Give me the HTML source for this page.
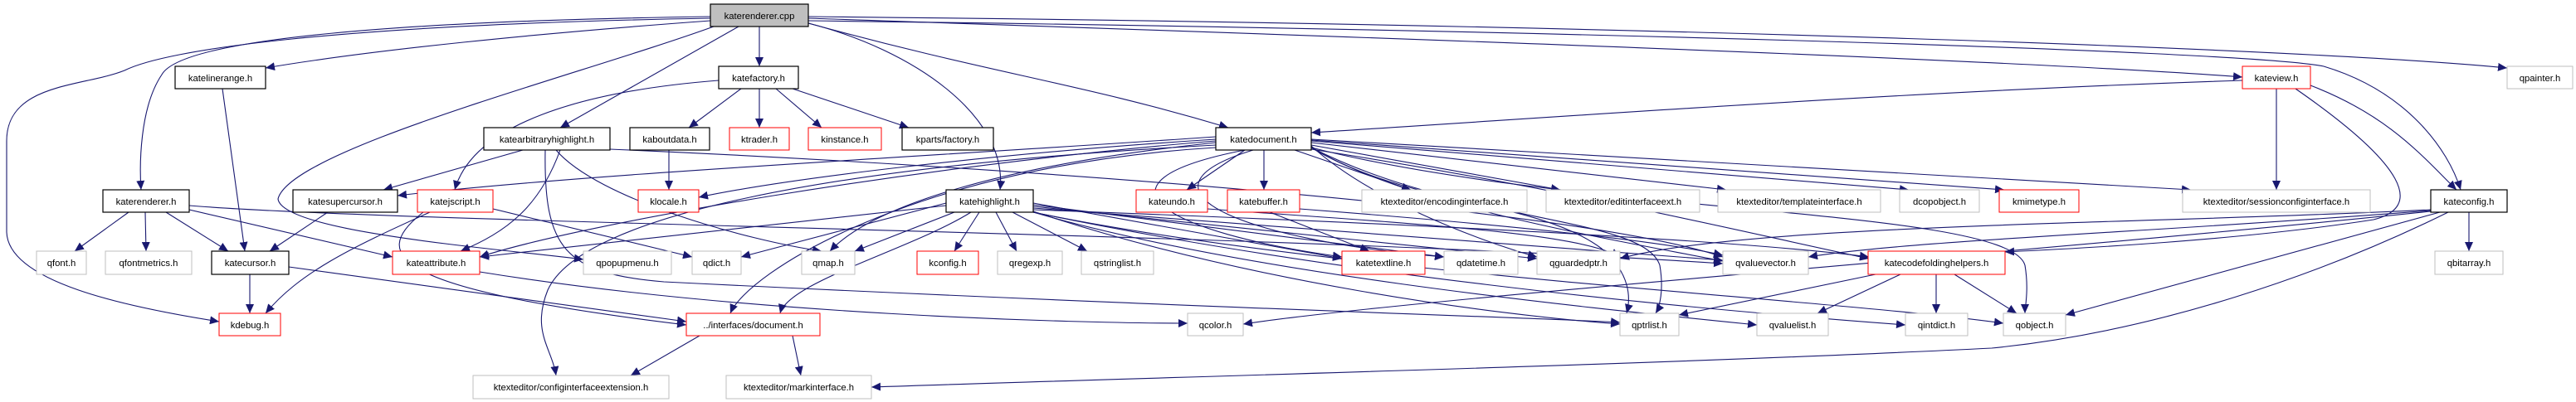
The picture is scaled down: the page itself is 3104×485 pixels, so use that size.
<!DOCTYPE html>
<html><head><meta charset="utf-8"><style>
html,body{margin:0;padding:0;background:#fff;}
svg{display:block}
text{font-family:"Liberation Sans",Arial,sans-serif;font-size:11.3px;fill:#000;text-anchor:middle}
.e{fill:none;stroke:#191970;stroke-width:1.1;marker-end:url(#a)}
.k{fill:#fff;stroke:#000;stroke-width:1.2}
.r{fill:#fff;stroke:#ff0000;stroke-width:1}
.g{fill:#fff;stroke:#bfbfbf;stroke-width:1}
</style></head><body>
<svg width="3104" height="485" viewBox="0 0 3104 485" xmlns="http://www.w3.org/2000/svg">
<defs><marker id="a" markerUnits="userSpaceOnUse" markerWidth="12" markerHeight="10" refX="11" refY="5" orient="auto"><path d="M0,0 L11,5 L0,10 z" fill="#191970"/></marker></defs>
<!-- edges -->
<path class="e" d="M915,32 L915,80"/>
<path class="e" d="M856,25 C650,40 450,60 320,82"/>
<path class="e" d="M856,20 C500,25 220,45 195,90 C168,130 168,200 170,229"/>
<path class="e" d="M856,22 C400,30 200,60 150,85 C100,105 8,100 8,170 L8,280 C10,340 150,370 264,388"/>
<path class="e" d="M890,32 L675,154"/>
<path class="e" d="M860,32 C700,90 350,180 335,240 C340,280 600,300 703,313"/>
<path class="e" d="M974,28 C1100,60 1215,140 1205,229"/>
<path class="e" d="M974,28 C1200,90 1300,100 1480,154"/>
<path class="e" d="M974,22 C1500,40 2400,70 2702,93"/>
<path class="e" d="M974,20 C2000,30 2800,60 3021,82"/>
<path class="e" d="M974,25 C1800,35 2700,60 2800,80 C2900,110 2950,180 2965,229"/>
<path class="e" d="M268,107 L295,303"/>
<path class="e" d="M893,107 L830,154"/>
<path class="e" d="M915,107 L915,154"/>
<path class="e" d="M935,107 L990,154"/>
<path class="e" d="M955,107 L1095,154"/>
<path class="e" d="M866,97 C700,110 570,150 548,229"/>
<path class="e" d="M2702,97 C2300,110 1900,140 1580,160"/>
<path class="e" d="M2743,107 L2743,229"/>
<path class="e" d="M2784,103 C2880,140 2920,190 2960,229"/>
<path class="e" d="M2766,107 C2900,200 2920,250 2860,265 C2700,290 2500,300 2416,304"/>
<path class="e" d="M630,181 L462,229"/>
<path class="e" d="M675,181 C650,250 610,280 555,303"/>
<path class="e" d="M670,181 C720,240 900,290 990,303"/>
<path class="e" d="M657,181 C655,300 680,330 800,340 C1400,370 1900,385 1952,389"/>
<path class="e" d="M735,180 C1200,200 1900,250 2076,310"/>
<path class="e" d="M806,181 L806,229"/>
<path class="e" d="M1465,165 C1100,190 700,210 479,236"/>
<path class="e" d="M1465,168 C1200,185 950,215 842,238"/>
<path class="e" d="M1465,170 C1100,200 700,270 578,310"/>
<path class="e" d="M1465,175 C1000,200 700,260 660,350 C640,400 665,420 670,453"/>
<path class="e" d="M1465,172 C1200,200 1050,250 1000,303"/>
<path class="e" d="M1465,178 C1100,200 900,330 880,378"/>
<path class="e" d="M1500,181 L1430,229"/>
<path class="e" d="M1523,181 L1523,229"/>
<path class="e" d="M1560,181 L1700,229"/>
<path class="e" d="M1580,175 L1880,229"/>
<path class="e" d="M1580,172 L2080,229"/>
<path class="e" d="M1580,170 L2300,229"/>
<path class="e" d="M1580,169 L2415,229"/>
<path class="e" d="M1580,168 C2000,190 2400,215 2640,229"/>
<path class="e" d="M1500,181 C1300,220 1400,280 1617,310"/>
<path class="e" d="M1510,181 C1350,230 1500,290 1740,310"/>
<path class="e" d="M1580,176 C1650,240 1780,290 1852,310"/>
<path class="e" d="M1580,178 C1700,250 1950,290 2076,315"/>
<path class="e" d="M1580,180 C1900,230 2100,280 2252,312"/>
<path class="e" d="M1580,178 C1700,250 1850,240 1930,300 C1965,330 1965,360 1960,378"/>
<path class="e" d="M1580,178 C1900,260 2420,250 2440,320 C2445,350 2440,370 2440,378"/>
<path class="e" d="M1580,178 C1760,270 1980,260 2000,320 C2005,350 2000,370 1995,378"/>
<path class="e" d="M155,256 L90,303"/>
<path class="e" d="M175,256 L176,303"/>
<path class="e" d="M200,256 L275,303"/>
<path class="e" d="M228,253 L473,310"/>
<path class="e" d="M228,248 C500,270 1500,280 2076,318"/>
<path class="e" d="M395,256 L325,303"/>
<path class="e" d="M518,256 C420,300 360,330 320,378"/>
<path class="e" d="M510,256 C440,310 480,350 827,392"/>
<path class="e" d="M594,252 L834,310"/>
<path class="e" d="M301,331 L301,378"/>
<path class="e" d="M348,322 L827,388"/>
<path class="e" d="M578,328 C900,380 1300,390 1431,390"/>
<path class="e" d="M1140,245 L893,310"/>
<path class="e" d="M1150,256 L1030,303"/>
<path class="e" d="M1180,256 L1150,303"/>
<path class="e" d="M1200,256 L1225,303"/>
<path class="e" d="M1220,256 L1310,303"/>
<path class="e" d="M1170,256 C1100,300 950,340 940,378"/>
<path class="e" d="M1140,248 L578,310"/>
<path class="e" d="M1245,245 L1617,312"/>
<path class="e" d="M1245,247 L1740,310"/>
<path class="e" d="M1245,249 L1852,312"/>
<path class="e" d="M1245,251 L2076,314"/>
<path class="e" d="M1245,253 C1700,270 2100,290 2252,310"/>
<path class="e" d="M1245,255 C1500,340 1800,380 1952,391"/>
<path class="e" d="M1245,256 C1500,330 1900,370 2117,392"/>
<path class="e" d="M1245,256 C1600,330 2000,370 2296,392"/>
<path class="e" d="M1245,256 C1600,330 2200,360 2414,390"/>
<path class="e" d="M1455,252 C1700,270 1900,280 1952,310"/>
<path class="e" d="M1530,256 L1650,303"/>
<path class="e" d="M1566,252 C1800,270 2000,290 2076,308"/>
<path class="e" d="M2260,331 L2023,380"/>
<path class="e" d="M2290,331 L2190,378"/>
<path class="e" d="M2333,331 L2333,378"/>
<path class="e" d="M2355,331 L2430,378"/>
<path class="e" d="M2975,256 L2975,303"/>
<path class="e" d="M2940,256 L2489,380"/>
<path class="e" d="M2950,256 C2800,330 2600,400 2400,420 C2000,440 1400,455 1050,467"/>
<path class="e" d="M2929,253 C2600,270 2100,270 1952,312"/>
<path class="e" d="M2929,254 C2600,280 2300,290 2179,310"/>
<path class="e" d="M2929,255 C2500,300 1700,360 1498,391"/>
<path class="e" d="M955,405 L965,453"/>
<path class="e" d="M843,405 L760,453"/>
<!-- nodes -->
<rect x="856" y="5" width="118" height="27" fill="#bfbfbf" stroke="#000" stroke-width="1.2"/><text x="915" y="23">katerenderer.cpp</text>
<rect class="k" x="211" y="80" width="109" height="27"/><text x="265.5" y="98">katelinerange.h</text>
<rect class="k" x="866" y="80" width="96" height="27"/><text x="914" y="98">katefactory.h</text>
<rect class="r" x="2702" y="80" width="82" height="27"/><text x="2743" y="98">kateview.h</text>
<rect class="g" x="3021" y="80" width="79" height="27"/><text x="3060.5" y="98">qpainter.h</text>
<rect class="k" x="583" y="154" width="152" height="27"/><text x="659" y="172">katearbitraryhighlight.h</text>
<rect class="k" x="759" y="154" width="96" height="27"/><text x="807" y="172">kaboutdata.h</text>
<rect class="r" x="879" y="154" width="72" height="27"/><text x="915" y="172">ktrader.h</text>
<rect class="r" x="974" y="154" width="88" height="27"/><text x="1018" y="172">kinstance.h</text>
<rect class="k" x="1087" y="154" width="110" height="27"/><text x="1142" y="172">kparts/factory.h</text>
<rect class="k" x="1465" y="154" width="115" height="27"/><text x="1522.5" y="172">katedocument.h</text>
<rect class="k" x="124" y="229" width="104" height="27"/><text x="176" y="247">katerenderer.h</text>
<rect class="k" x="353" y="229" width="126" height="27"/><text x="416" y="247">katesupercursor.h</text>
<rect class="r" x="503" y="229" width="91" height="27"/><text x="548.5" y="247">katejscript.h</text>
<rect class="r" x="769" y="229" width="73" height="27"/><text x="805.5" y="247">klocale.h</text>
<rect class="k" x="1140" y="229" width="105" height="27"/><text x="1192.5" y="247">katehighlight.h</text>
<rect class="r" x="1369" y="229" width="86" height="27"/><text x="1412" y="247">kateundo.h</text>
<rect class="r" x="1479" y="229" width="87" height="27"/><text x="1522.5" y="247">katebuffer.h</text>
<rect class="g" x="1641" y="229" width="199" height="27"/><text x="1740.5" y="247">ktexteditor/encodinginterface.h</text>
<rect class="g" x="1863" y="229" width="185" height="27"/><text x="1955.5" y="247">ktexteditor/editinterfaceext.h</text>
<rect class="g" x="2070" y="229" width="196" height="27"/><text x="2168" y="247">ktexteditor/templateinterface.h</text>
<rect class="g" x="2289" y="229" width="96" height="27"/><text x="2337" y="247">dcopobject.h</text>
<rect class="r" x="2409" y="229" width="96" height="27"/><text x="2457" y="247">kmimetype.h</text>
<rect class="g" x="2630" y="229" width="226" height="27"/><text x="2743" y="247">ktexteditor/sessionconfiginterface.h</text>
<rect class="k" x="2929" y="229" width="92" height="27"/><text x="2975" y="247">kateconfig.h</text>
<rect class="g" x="44" y="303" width="60" height="28"/><text x="74" y="321">qfont.h</text>
<rect class="g" x="127" y="303" width="104" height="28"/><text x="179" y="321">qfontmetrics.h</text>
<rect class="k" x="255" y="303" width="93" height="28"/><text x="301.5" y="321">katecursor.h</text>
<rect class="r" x="473" y="303" width="105" height="28"/><text x="525.5" y="321">kateattribute.h</text>
<rect class="g" x="703" y="303" width="106" height="28"/><text x="756" y="321">qpopupmenu.h</text>
<rect class="g" x="834" y="303" width="59" height="28"/><text x="863.5" y="321">qdict.h</text>
<rect class="g" x="966" y="303" width="64" height="28"/><text x="998" y="321">qmap.h</text>
<rect class="r" x="1105" y="303" width="74" height="28"/><text x="1142" y="321">kconfig.h</text>
<rect class="g" x="1202" y="303" width="78" height="28"/><text x="1241" y="321">qregexp.h</text>
<rect class="g" x="1303" y="303" width="87" height="28"/><text x="1346.5" y="321">qstringlist.h</text>
<rect class="r" x="1617" y="303" width="100" height="28"/><text x="1667" y="321">katetextline.h</text>
<rect class="g" x="1740" y="303" width="89" height="28"/><text x="1784.5" y="321">qdatetime.h</text>
<rect class="g" x="1852" y="303" width="100" height="28"/><text x="1902" y="321">qguardedptr.h</text>
<rect class="g" x="2076" y="303" width="103" height="28"/><text x="2127.5" y="321">qvaluevector.h</text>
<rect class="r" x="2251" y="303" width="165" height="28"/><text x="2333.5" y="321">katecodefoldinghelpers.h</text>
<rect class="g" x="2934" y="303" width="82" height="28"/><text x="2975" y="321">qbitarray.h</text>
<rect class="r" x="264" y="378" width="74" height="27"/><text x="301" y="396">kdebug.h</text>
<rect class="r" x="827" y="378" width="161" height="27"/><text x="907.5" y="396">../interfaces/document.h</text>
<rect class="g" x="1431" y="378" width="67" height="27"/><text x="1464.5" y="396">qcolor.h</text>
<rect class="g" x="1952" y="378" width="71" height="27"/><text x="1987.5" y="396">qptrlist.h</text>
<rect class="g" x="2117" y="378" width="86" height="27"/><text x="2160" y="396">qvaluelist.h</text>
<rect class="g" x="2296" y="378" width="75" height="27"/><text x="2333.5" y="396">qintdict.h</text>
<rect class="g" x="2414" y="378" width="75" height="27"/><text x="2451.5" y="396">qobject.h</text>
<rect class="g" x="570" y="453" width="236" height="28"/><text x="688" y="471">ktexteditor/configinterfaceextension.h</text>
<rect class="g" x="875" y="453" width="175" height="28"/><text x="962.5" y="471">ktexteditor/markinterface.h</text>
</svg>
</body></html>
